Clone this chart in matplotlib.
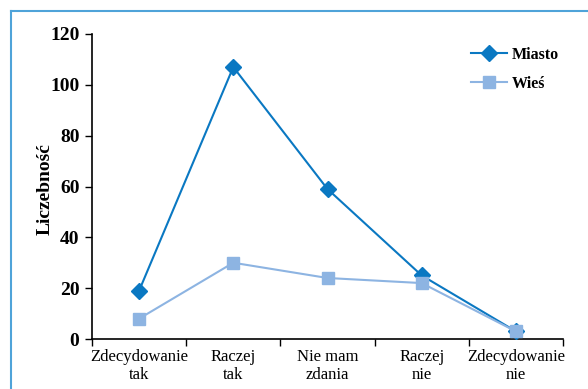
import numpy as np
import matplotlib.pyplot as plt
from matplotlib.lines import Line2D

# data
categories = ['Zdecydowanie\ntak', 'Raczej\ntak', 'Nie mam\nzdania', 'Raczej\nnie', 'Zdecydowanie\nnie']
miasto = [19, 107, 59, 25, 3]
wies = [8, 30, 24, 22, 3]

plt.rcParams['font.family'] = ['Liberation Serif', 'DejaVu Serif']

fig = plt.figure(figsize=(5.88, 3.89), dpi=100)
ax = fig.add_axes([92 / 588, 1 - 339 / 389, (563 - 92) / 588, (339 - 34) / 389])

x = np.arange(len(categories))
ax.plot(x, miasto, color='#0a78c2', marker='D', markersize=8, lw=1.5, label='Miasto', zorder=3)
ax.plot(x, wies, color='#8db4e2', marker='s', markersize=8.5, lw=1.5, label='Wieś', zorder=4)

ax.set_xlim(-0.5, len(categories) - 0.5)
ax.set_ylim(0, 120)
ax.set_yticks(np.arange(0, 121, 20))
ax.set_xticks(np.arange(-0.5, len(categories), 1.0))
ax.set_xticklabels([])
ax.set_xticks(x, minor=True)
ax.set_xticklabels(categories, minor=True, fontsize=12, linespacing=1.15)
ax.tick_params(axis='x', which='minor', length=0, pad=7)
ax.tick_params(axis='x', which='major', length=5, direction='out', width=1)
ax.tick_params(axis='y', length=5, direction='out', width=1, labelsize=14, pad=4)
for t in ax.get_yticklabels():
    t.set_fontweight('bold')

for s in ['top', 'right']:
    ax.spines[s].set_visible(False)
for s in ['left', 'bottom']:
    ax.spines[s].set_linewidth(1.2)

ax.set_ylabel('Liczebność', fontsize=14, fontweight='bold')
ax.yaxis.set_label_coords(-0.082, 0.49)

ax.legend(loc='upper left', bbox_to_anchor=(0.775, 1.005), frameon=False,
          handlelength=2.2, handletextpad=0.3, prop={'weight': 'bold', 'size': 11.5},
          labelspacing=0.8)

# outer blue frame (left and top edges)
fig.add_artist(Line2D([11 / 588, 11 / 588], [0, 1 - 11 / 389], color='#4fa3d9', lw=1.5,
                      transform=fig.transFigure))
fig.add_artist(Line2D([11 / 588, 1], [1 - 11 / 389, 1 - 11 / 389], color='#4fa3d9', lw=1.5,
                      transform=fig.transFigure))

fig.savefig('out.png', dpi=100)
